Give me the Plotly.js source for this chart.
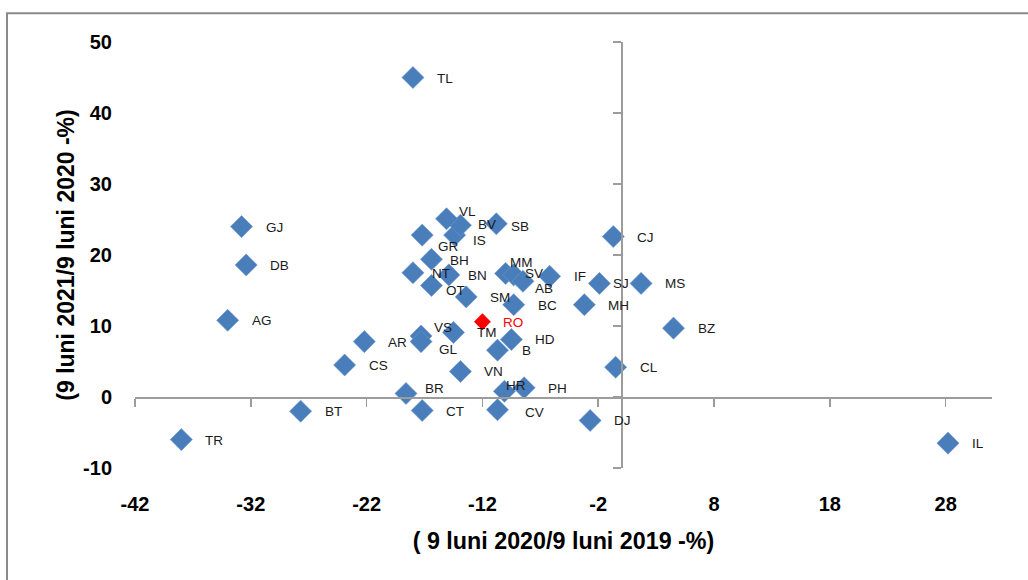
<!DOCTYPE html>
<html>
<head>
<meta charset="utf-8">
<script src="https://cdn.plot.ly/plotly-3.0.1.min.js"></script>
<style>
  html, body { margin: 0; padding: 0; background: #fff; overflow: hidden; }
  #chart { width: 1028px; height: 580px; }
</style>
</head>
<body>
<div id="chart"></div>
<script>
// ---- DATA ----
const counties = ['TL','GJ','DB','AG','TR','BT','CS','AR','BR','CT','VS','GL','TM','HD','B','VN','HR','PH','CV','DJ','IL','CL','BZ','MS','SJ','MH','CJ','IF','BC','MM','SV','AB','SM','OT','BN','NT','BH','GR','IS','BV','VL','SB'];
// 9 luni 2020 / 9 luni 2019 (%)
const change2020 = [-18.0,-32.8,-32.4,-34.0,-38.0,-27.7,-23.9,-22.2,-18.6,-17.2,-17.3,-17.3,-14.5,-9.5,-10.7,-13.9,-10.1,-8.4,-10.7,-2.7,28.2,-0.5,4.5,1.7,-1.9,-3.2,-0.7,-6.2,-9.3,-10.0,-9.3,-8.5,-13.4,-16.4,-14.9,-18.0,-16.4,-17.2,-14.4,-13.9,-15.1,-10.8];
// 9 luni 2021 / 9 luni 2020 (%)
const change2021 = [45.0,24.0,18.6,10.8,-6.0,-2.0,4.5,7.8,0.5,-1.9,8.6,7.8,9.1,8.1,6.6,3.6,0.8,1.3,-1.8,-3.3,-6.5,4.2,9.7,16.0,16.0,13.0,22.6,17.0,13.0,17.4,17.2,16.3,14.1,15.7,17.2,17.5,19.4,22.8,22.8,24.2,25.1,24.4];
const nationalLabel = ['RO'];
const national2020 = [-12.0];
const national2021 = [10.6];
// tick labels
const xTickVals = [-42,-32,-22,-12,-2,8,18,28];
const xTickText = ['-42','-32','-22','-12','-2','8','18','28'];
const yTickVals = [-10,0,10,20,30,40,50];
const yTickText = ['-10','0','10','20','30','40','50'];

// ---- STYLE (label nudges in px: [right, down]) ----
const defaultNudge = [24, 0.5];
const labelNudge = {
  BR:[19,-4.5], VS:[13,-8.5], GL:[18,8], HR:[2,-6], CV:[28,3], MM:[4,-11], SV:[11,-1],
  AB:[12,7], OT:[15,5], BN:[19,1], NT:[19,1], BH:[19,1], GR:[16,11], IS:[18,5],
  BV:[18,-1], VL:[12,-7], SB:[15,3], SJ:[14,0], RO:[21,1], B:[25,0], CT:[24,1.5]
};

const FONT = 'Liberation Sans, Arial, sans-serif';
const XR = [-42, 32], YR = [-10, 50];

const traces = [
  {
    type:'scatter', mode:'markers', x:change2020, y:change2021, text:counties,
    marker:{symbol:'diamond', size:17, color:'#4A7EBB', line:{width:0.6, color:'#6b97cf'}},
    hoverinfo:'text+x+y', showlegend:false
  },
  {
    type:'scatter', mode:'markers', x:national2020, y:national2021, text:nationalLabel,
    marker:{symbol:'diamond', size:13, color:'#FF0000'},
    hoverinfo:'text+x+y', showlegend:false
  },
  { type:'scatter', mode:'markers', x:[], y:[], xaxis:'x2', yaxis:'y2', showlegend:false, hoverinfo:'skip' }
];

function makeAnn(lbl, x, y, color) {
  const n = labelNudge[lbl] || defaultNudge;
  return {
    x:x, y:y, xref:'x', yref:'y', text:lbl, showarrow:false,
    xanchor:'left', yanchor:'middle', xshift:n[0], yshift:-n[1],
    borderpad:0, borderwidth:0,
    font:{family:FONT, size:13.5, color:color}
  };
}
const annotations = counties.map((c,i)=>makeAnn(c, change2020[i], change2021[i], '#1a1a1a'))
  .concat(nationalLabel.map((c,i)=>makeAnn(c, national2020[i], national2021[i], '#FF0000')));

const tickFont = {family:FONT, size:20, color:'#000', weight:'bold'};
const layout = {
  width:1028, height:580,
  margin:{l:135, r:36, t:42, b:112, pad:0},
  paper_bgcolor:'#fff', plot_bgcolor:'#fff',
  showlegend:false,
  xaxis:{
    range:XR, tickmode:'array', tickvals:xTickVals, ticktext:xTickText,
    showgrid:false, zeroline:false, showline:false, ticks:'',
    tickfont:tickFont, ticklabelstandoff:22,
    title:{text:'( 9 luni 2020/9 luni 2019 -%)', font:{family:FONT, size:23.3, color:'#000', weight:'bold'}, standoff:18}
  },
  yaxis:{
    range:YR, tickmode:'array', tickvals:yTickVals, ticktext:yTickText,
    showgrid:false, zeroline:false, showline:false, ticks:'',
    tickfont:tickFont, ticklabelstandoff:22,
    title:{text:'(9 luni 2021/9 luni 2020 -%)', font:{family:FONT, size:23, color:'#000', weight:'bold'}, standoff:2}
  },
  xaxis2:{
    overlaying:'x', anchor:'free', position:(0 - YR[0])/(YR[1]-YR[0]), side:'bottom',
    range:XR, tickmode:'array', tickvals:xTickVals,
    showgrid:false, zeroline:false, showline:true, linecolor:'#9c9c9c', linewidth:1.5,
    ticks:'outside', ticklen:8, tickwidth:1.5, tickcolor:'#9c9c9c', showticklabels:false
  },
  yaxis2:{
    overlaying:'y', anchor:'free', position:(0 - XR[0])/(XR[1]-XR[0]), side:'left',
    range:YR, tickmode:'array', tickvals:yTickVals,
    showgrid:false, zeroline:false, showline:true, linecolor:'#9c9c9c', linewidth:1.5,
    ticks:'outside', ticklen:8, tickwidth:1.5, tickcolor:'#9c9c9c', showticklabels:false
  },
  annotations:annotations,
  shapes:[{
    type:'rect', xref:'paper', yref:'paper',
    x0:(7-135)/857, x1:1.2, y0:-0.5, y1:(468.3-13)/426.6,
    line:{color:'#8a8a8a', width:2}, fillcolor:'rgba(0,0,0,0)', layer:'below'
  }]
};

Plotly.newPlot('chart', traces, layout, {displayModeBar:false, staticPlot:true});
</script>
</body>
</html>
